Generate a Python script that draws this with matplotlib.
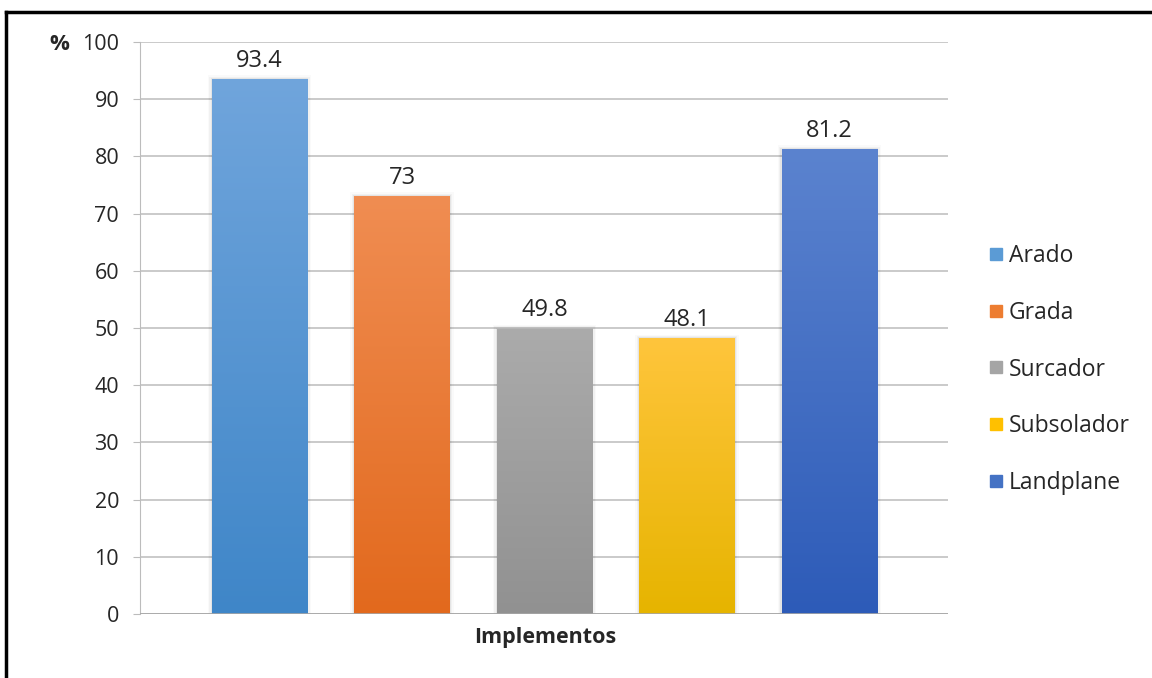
import matplotlib.pyplot as plt
import numpy as np
from matplotlib.colors import LinearSegmentedColormap
from matplotlib.patches import Rectangle
from matplotlib.lines import Line2D

implementos = ["Arado", "Grada", "Surcador", "Subsolador", "Landplane"]
valores = [93.4, 73, 49.8, 48.1, 81.2]
etiquetas = ["93.4", "73", "49.8", "48.1", "81.2"]
# (top, bottom) colours of each gradient bar
colores_arriba = ["#70a5dc", "#f08d52", "#ababab", "#ffc53c", "#5b83cf"]
colores_abajo = ["#3f86c8", "#e2691d", "#919191", "#e6b400", "#2d5bb8"]
colores_leyenda = ["#5b9bd5", "#ed7d31", "#a5a5a5", "#ffc000", "#4472c4"]
yticks = [0, 10, 20, 30, 40, 50, 60, 70, 80, 90, 100]

plt.rcParams["font.family"] = ["Open Sans", "DejaVu Sans"]

fig = plt.figure(figsize=(11.52, 6.78), dpi=100)
ax = fig.add_axes([0.1215, 0.0944, 0.7014, 0.8436])

x = np.arange(len(valores))
ancho = 0.667
bars = ax.bar(x, valores, width=ancho, color="none", zorder=3)

grad = np.linspace(1, 0, 256).reshape(-1, 1)
for i, b in enumerate(bars):
    cmap = LinearSegmentedColormap.from_list("g", [colores_abajo[i], colores_arriba[i]])
    x0, w, h = b.get_x(), b.get_width(), b.get_height()
    # soft shadow
    for k, a in enumerate([0.05, 0.035, 0.02]):
        d = 0.01 * (k + 1)
        ax.add_patch(Rectangle((x0 - d, 0), w + 2 * d, h + 0.25 * (k + 1),
                               color="black", alpha=a, lw=0, zorder=2))
    ax.imshow(grad, extent=(x0, x0 + w, 0, h), cmap=cmap, aspect="auto",
              origin="upper", zorder=3)
    ax.annotate(etiquetas[i], (b.get_x() + w / 2, h), xytext=(0, 5),
                textcoords="offset points", ha="center", va="bottom",
                fontsize=17, color="#262626")

ax.set_xlim(-0.839, 4.832)
ax.set_ylim(0, 100)
ax.set_yticks(yticks)
ax.set_xticks([])
ax.grid(axis="y", color="#bcbcbc", linewidth=1.1, zorder=0)
for s in ["top", "right", "bottom"]:
    ax.spines[s].set_visible(False)
ax.spines["left"].set_color("#bcbcbc")
ax.axhline(0, color="#a6a6a6", linewidth=1.2, zorder=4)
ax.tick_params(axis="y", length=5, color="#bcbcbc", labelsize=15.5,
               labelcolor="#262626", pad=10)

ax.annotate("%", xy=(0, 100), xycoords=("axes fraction", "data"),
            xytext=(-51, 0), textcoords="offset points", fontsize=16,
            fontweight="bold", ha="right", va="center_baseline",
            color="#262626", annotation_clip=False)
fig.text(0.473, 0.06, "Implementos", fontsize=15.5, fontweight="bold",
         ha="center", va="center", color="#262626")

handles = [Line2D([], [], marker="s", linestyle="none", markersize=9,
                  markerfacecolor=c, markeredgecolor=c) for c in colores_leyenda]
fig.legend(handles, implementos, loc="center left",
           bbox_to_anchor=(0.837, 0.455), frameon=False, fontsize=16.5,
           labelspacing=1.42, handletextpad=0.05, handlelength=1.0,
           labelcolor="#262626")

# outer frame (top and left edges visible)
fig.add_artist(Line2D([0.0055, 1.01], [0.982, 0.982], color="black",
                      linewidth=2.5, transform=fig.transFigure))
fig.add_artist(Line2D([0.0055, 0.0055], [-0.01, 0.982], color="black",
                      linewidth=2.5, transform=fig.transFigure))

fig.savefig("out.png", dpi=100, facecolor="white")
